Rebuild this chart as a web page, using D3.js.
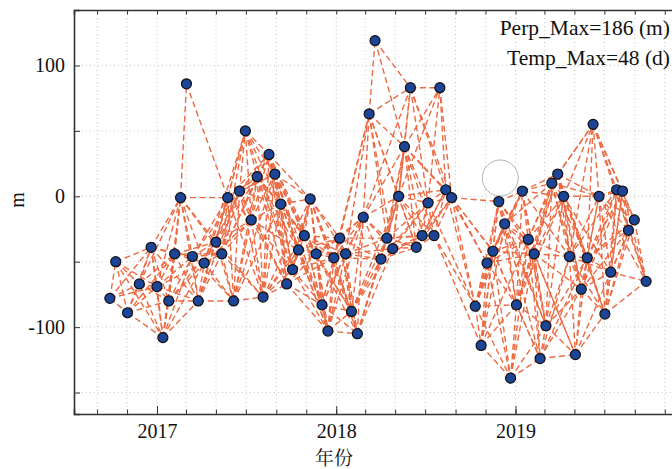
<!DOCTYPE html>
<html>
<head>
<meta charset="utf-8">
<script src="https://cdn.jsdelivr.net/npm/d3@7"></script>
<style>
  body { margin: 0; background: #fff; }
  svg { display: block; }
  .grid line { stroke: #c8c8c8; stroke-dasharray: 1,3; }
  .axis path, .axis line { stroke: #333; }
  .axis text { font-family: "Liberation Serif", "Times New Roman", serif; font-size: 20px; fill: #111; }
</style>
</head>
<body>
<div id="chart"></div>
<script>
// acquisition dates and perpendicular baselines (m)
var dates = [
  "2016-09-27","2016-10-09","2016-11-02","2016-11-26","2016-12-20","2017-01-01","2017-01-13","2017-01-25",
  "2017-02-06","2017-02-18","2017-03-02","2017-03-14","2017-03-26","2017-04-07","2017-05-01","2017-05-13",
  "2017-05-25","2017-06-06","2017-06-18","2017-06-30","2017-07-12","2017-07-24","2017-08-05","2017-08-17",
  "2017-08-29","2017-09-10","2017-09-22","2017-10-04","2017-10-16","2017-10-28","2017-11-09","2017-11-21",
  "2017-12-03","2017-12-15","2017-12-27","2018-01-08","2018-01-20","2018-02-01","2018-02-13","2018-02-25",
  "2018-03-09","2018-03-21","2018-04-02","2018-04-14","2018-04-26","2018-05-08","2018-05-20","2018-06-01",
  "2018-06-13","2018-06-25","2018-07-07","2018-07-19","2018-07-31","2018-08-12","2018-08-24","2018-10-11",
  "2018-10-23","2018-11-04","2018-11-16","2018-11-28","2018-12-10","2018-12-22","2019-01-03","2019-01-15",
  "2019-01-27","2019-02-08","2019-02-20","2019-03-04","2019-03-16","2019-03-28","2019-04-09","2019-04-21",
  "2019-05-03","2019-05-15","2019-05-27","2019-06-08","2019-06-20","2019-07-02","2019-07-14","2019-07-26",
  "2019-08-07","2019-08-19","2019-08-31","2019-09-24"
];
var perp = [
  -78, -50, -89, -67, -39, -69, -108, -80,
  -44, -1, 86, -46, -80, -51, -35, -44,
  -1, -80, 4, 50, -18, 15, -77, 32,
  17, -6, -67, -56, -41, -30, -2, -44,
  -83, -103, -47, -32, -44, -88, -105, -16,
  63, 119, -48, -32, -40, 0, 38, 83,
  -39, -30, -5, -30, 83, 5, -1, -84,
  -114, -51, -42, -4, -21, -139, -83, 4,
  -33, -44, -124, -99, 10, 17, 0, -46,
  -121, -71, -47, 55, 0, -90, -58, 5,
  4, -26, -18, -65
];
// super-master marker
var refDate = "2018-12-01", refPerp = 14;
var notes = ["Perp_Max=186 (m)", "Temp_Max=48 (d)"];
var yTickValues = [-150, -100, -50, 0, 50, 100];
var yTickLabels = [-100, 0, 100];
var xLabel = "年份", yLabel = "m";
// pairing thresholds used to rebuild the interferogram network
var maxDays = 96, maxPerp = 110;

var W = 672, H = 469;
var mLeft = 74, mTop = 10, mRight = 680, mBottom = 414;

var parse = d3.timeParse("%Y-%m-%d");
var acq = dates.map(function(d, i) { return {date: parse(d), perp: perp[i]}; });

var x = d3.scaleTime()
    .domain([parse("2016-07-16"), parse("2019-12-02")])
    .range([mLeft, mRight]);
var y = d3.scaleLinear()
    .domain([-166.4, 142.4])
    .range([mBottom, mTop]);

var svg = d3.select("#chart").append("svg")
    .attr("width", W)
    .attr("height", H);

var monthTicks = x.ticks(d3.timeMonth.every(2));
var yearTicks = x.ticks(d3.timeYear.every(1));

// dotted grid
var grid = svg.append("g").attr("class", "grid");
grid.selectAll("line.gx").data(monthTicks).enter().append("line")
    .attr("x1", function(d) { return x(d); }).attr("x2", function(d) { return x(d); })
    .attr("y1", mTop).attr("y2", mBottom);
grid.selectAll("line.gy").data(yTickValues).enter().append("line")
    .attr("x1", mLeft).attr("x2", mRight)
    .attr("y1", function(d) { return y(d); }).attr("y2", function(d) { return y(d); });

// network links
var links = [];
for (var i = 0; i < acq.length; i++) {
  for (var j = i + 1; j < acq.length; j++) {
    var dt = (acq[j].date - acq[i].date) / 864e5;
    if (dt <= maxDays && Math.abs(acq[j].perp - acq[i].perp) <= maxPerp) {
      links.push([acq[i], acq[j]]);
    }
  }
}
svg.append("g").selectAll("line").data(links).enter().append("line")
    .attr("x1", function(d) { return x(d[0].date); })
    .attr("y1", function(d) { return y(d[0].perp); })
    .attr("x2", function(d) { return x(d[1].date); })
    .attr("y2", function(d) { return y(d[1].perp); })
    .style("stroke", "#ec6b43")
    .style("stroke-width", 1.4)
    .style("stroke-dasharray", "6,3.5");

// super-master circle
svg.append("circle")
    .attr("cx", x(parse(refDate)))
    .attr("cy", y(refPerp))
    .attr("r", 18)
    .style("fill", "#fff")
    .style("stroke", "#b5b5b5")
    .style("stroke-width", 1);

// acquisitions
svg.append("g").selectAll("circle").data(acq).enter().append("circle")
    .attr("cx", function(d) { return x(d.date); })
    .attr("cy", function(d) { return y(d.perp); })
    .attr("r", 5)
    .style("fill", "#1c4597")
    .style("stroke", "#111")
    .style("stroke-width", 1.2);

// axes (ticks point inward)
svg.append("g").attr("class", "axis")
    .attr("transform", "translate(0," + mBottom + ")")
    .call(d3.axisBottom(x).tickValues(monthTicks).tickSize(-4.5).tickFormat(""))
    .select(".domain").style("stroke-width", 1.6);
svg.append("g").attr("class", "axis")
    .attr("transform", "translate(0," + mBottom + ")")
    .call(d3.axisBottom(x).tickValues(yearTicks).tickSize(-8).tickPadding(10)
      .tickFormat(d3.timeFormat("%Y")))
    .select(".domain").remove();
svg.append("g").attr("class", "axis")
    .attr("transform", "translate(0," + mTop + ")")
    .call(d3.axisTop(x).tickValues(monthTicks).tickSize(-4.5).tickFormat(""))
    .select(".domain").style("stroke-width", 1.6);
svg.append("g").attr("class", "axis")
    .attr("transform", "translate(" + mLeft + ",0)")
    .call(d3.axisLeft(y).tickValues(yTickValues).tickSize(-6).tickPadding(9)
      .tickFormat(function(d) { return yTickLabels.indexOf(d) >= 0 ? d : ""; }))
    .select(".domain").style("stroke-width", 1.6);

// labels
svg.append("text")
    .attr("transform", "translate(24,200) rotate(-90)")
    .attr("text-anchor", "middle")
    .style("font-family", "Liberation Serif, serif")
    .style("font-size", "20px")
    .style("fill", "#111")
    .text(yLabel);
svg.append("text")
    .attr("x", 334).attr("y", 465)
    .attr("text-anchor", "middle")
    .style("font-family", "Noto Serif CJK SC, Noto Sans CJK SC, sans-serif")
    .style("font-size", "19px")
    .style("fill", "#111")
    .text(xLabel);
svg.append("g").selectAll("text").data(notes).enter().append("text")
    .attr("x", 670)
    .attr("y", function(d, i) { return 35 + i * 30; })
    .attr("text-anchor", "end")
    .style("font-family", "Liberation Serif, serif")
    .style("font-size", "21.5px")
    .style("fill", "#111")
    .text(function(d) { return d; });
</script>
</body>
</html>
